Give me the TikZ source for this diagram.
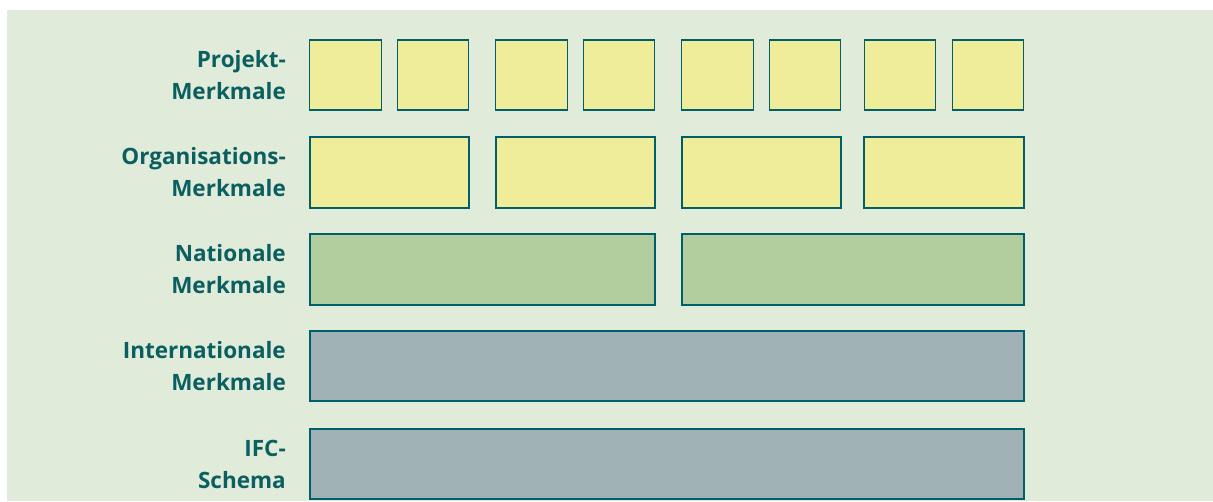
\documentclass[tikz,border=0pt]{standalone}
\usepackage{fontspec}
\setmainfont{Open Sans}
\definecolor{bgc}{HTML}{E0EBDA}
\definecolor{yel}{HTML}{F0ED9A}
\definecolor{grn}{HTML}{B2CE9F}
\definecolor{gry}{HTML}{A0B2B5}
\definecolor{edge}{HTML}{00606A}
\definecolor{txt}{HTML}{0B5F60}
\begin{document}
\begin{tikzpicture}[x=1pt,y=-1pt,
  box/.style={draw=edge, line width=1.4pt, inner sep=0pt, minimum height=70pt},
  yb/.style={box, fill=yel},
  gb/.style={box, fill=grn},
  sb/.style={box, fill=gry},
  lbl/.style={anchor=base east, inner sep=0pt, text=txt, font=\fontsize{22.5}{32}\selectfont\bfseries}]
\useasboundingbox (0,0) rectangle (1213,501);
\fill[bgc] (7,10) rectangle (1213,501);
% row 1
\node[yb, minimum width=71.5pt] (a1) at (345.5,75) {};
\node[yb, minimum width=71.5pt] (a2) at (433,75) {};
\node[yb, minimum width=71.5pt] (a3) at (531.5,75) {};
\node[yb, minimum width=71.5pt] (a4) at (619,75) {};
\node[yb, minimum width=71.5pt] (a5) at (717.5,75) {};
\node[yb, minimum width=71.5pt] (a6) at (805,75) {};
\node[yb, minimum width=71.5pt] (a7) at (900,75) {};
\node[yb, minimum width=71.5pt] (a8) at (988,75) {};
% row 2
\node[yb, minimum width=159pt, minimum height=71pt] (b1) at (389.5,172.5) {};
\node[yb, minimum width=159pt, minimum height=71pt] (b2) at (575.5,172.5) {};
\node[yb, minimum width=159pt, minimum height=71pt] (b3) at (761.5,172.5) {};
\node[yb, minimum width=160pt, minimum height=71pt] (b4) at (944,172.5) {};
% row 3
\node[gb, minimum width=345pt, minimum height=71pt] (c1) at (482.5,269.5) {};
\node[gb, minimum width=342pt, minimum height=71pt] (c2) at (853,269.5) {};
% row 4, 5
\node[sb, minimum width=714pt] (d1) at (667,366) {};
\node[sb, minimum width=714pt] (e1) at (667,464) {};
% labels
\node[lbl] (l1a) at (286,67) {Projekt-};
\node[lbl] (l1b) at (286,99) {Merkmale};
\node[lbl] (l2a) at (286,164.5) {Organisations-};
\node[lbl] (l2b) at (286,196.5) {Merkmale};
\node[lbl] (l3a) at (286,261.5) {Nationale};
\node[lbl] (l3b) at (286,293.5) {Merkmale};
\node[lbl] (l4a) at (286,358) {Internationale};
\node[lbl] (l4b) at (286,390) {Merkmale};
\node[lbl] (l5a) at (286,456) {IFC-};
\node[lbl] (l5b) at (286,488) {Schema};
\end{tikzpicture}
\end{document}
